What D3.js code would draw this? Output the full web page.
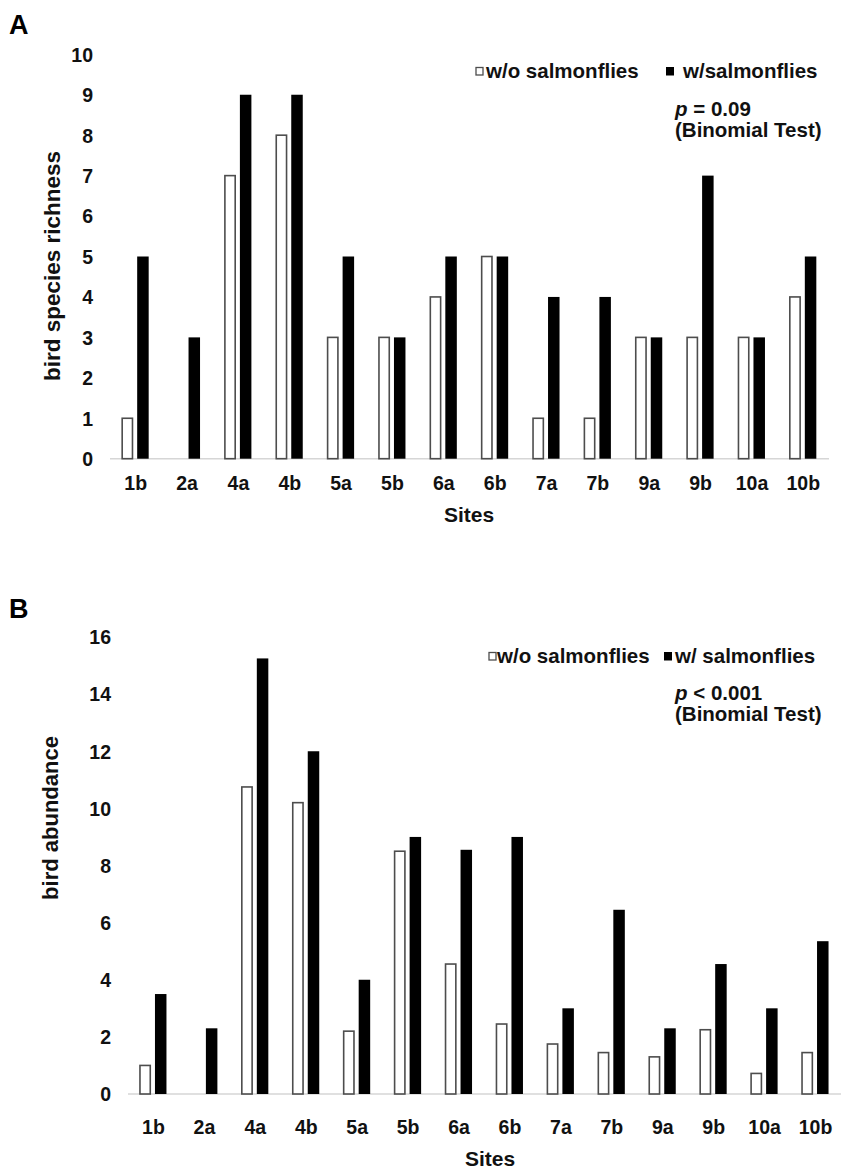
<!DOCTYPE html>
<html><head><meta charset="utf-8">
<script src="https://cdn.jsdelivr.net/npm/d3@7/dist/d3.min.js"></script>
<style>
html,body{margin:0;padding:0;background:#fff;}
svg text{font-family:"Liberation Sans",Arial,sans-serif;font-weight:bold;fill:#111;}
</style></head>
<body>
<svg id="chart" width="854" height="1171"></svg>
<script>
const sites = ["1b","2a","4a","4b","5a","5b","6a","6b","7a","7b","9a","9b","10a","10b"];
const richnessWithout = [1,0,7,8,3,3,4,5,1,1,3,3,3,4];
const richnessWith    = [5,3,9,9,5,3,5,5,4,4,3,7,3,5];
const abundanceWithout = [1.0,0,10.75,10.2,2.2,8.5,4.55,2.45,1.75,1.45,1.3,2.25,0.72,1.45];
const abundanceWith    = [3.5,2.3,15.25,12,4,9,8.55,9,3,6.45,2.3,4.55,3,5.35];
const richnessTicks = [0,1,2,3,4,5,6,7,8,9,10];
const abundanceTicks = [0,2,4,6,8,10,12,14,16];

const svg = d3.select("#chart");

function panel(cfg){
  const g = svg.append("g");
  const x = d3.scaleBand().domain(sites).range(cfg.xr).paddingInner(0).paddingOuter(0);
  const y = d3.scaleLinear().domain([0, cfg.max]).range(cfg.yr);

  g.append("line").attr("x1", cfg.xr[0]).attr("x2", cfg.xr[1])
    .attr("y1", y(0)).attr("y2", y(0)).attr("stroke", "#d6d6d6").attr("stroke-width", 1.5);

  const ya = d3.axisLeft(y).tickValues(cfg.ticks).tickSize(0).tickPadding(0);
  const yg = g.append("g").attr("transform", `translate(${cfg.yLabelX},0)`).call(ya);
  yg.select(".domain").remove();
  yg.selectAll("text").style("font-size", "19.5px").attr("dy", "0.35em");

  const xa = d3.axisBottom(x).tickSize(0).tickPadding(0);
  const xg = g.append("g").attr("transform", `translate(0,${cfg.xLabelY})`).call(xa);
  xg.select(".domain").remove();
  xg.selectAll("text").style("font-size", "19.5px").attr("dy", "0");

  const bw = 11.5;
  g.selectAll("rect.wo").data(sites.map((s,i)=>({s, v: cfg.without[i]})).filter(d=>d.v>0))
    .join("rect").attr("class","wo")
    .attr("x", d => x(d.s) + x.bandwidth()/2 - 13.5)
    .attr("y", d => y(d.v))
    .attr("width", bw - 1.2)
    .attr("height", d => y(0) - y(d.v))
    .attr("fill", "#fff").attr("stroke", "#4d4d4d").attr("stroke-width", 1.6);
  g.selectAll("rect.w").data(sites.map((s,i)=>({s, v: cfg.with[i]})))
    .join("rect").attr("class","w")
    .attr("x", d => x(d.s) + x.bandwidth()/2 + 1.5)
    .attr("y", d => y(d.v))
    .attr("width", bw)
    .attr("height", d => y(0) - y(d.v))
    .attr("fill", "#000");

  g.append("text").attr("x", 9).attr("y", cfg.letterY).text(cfg.letter).style("font-size","27px").style("fill","#000");

  g.append("text").attr("transform", `translate(${cfg.titleX},${cfg.titleY}) rotate(-90)`)
    .attr("text-anchor","middle").style("font-size", cfg.titleSize).text(cfg.ytitle);

  g.append("text").attr("x", cfg.sitesX).attr("y", cfg.sitesY).attr("text-anchor","middle")
    .style("font-size","21px").text("Sites");

  const L = cfg.legend;
  g.append("rect").attr("x", L.sq1).attr("y", L.y - 10.5).attr("width", 7).attr("height", 7.5)
    .attr("fill","#fff").attr("stroke","#4d4d4d").attr("stroke-width",1.3);
  g.append("text").attr("x", L.t1).attr("y", L.y).style("font-size","20.5px").text("w/o salmonflies");
  g.append("rect").attr("x", L.sq2).attr("y", L.y - 11).attr("width", 8).attr("height", 8.5).attr("fill","#000");
  g.append("text").attr("x", L.t2).attr("y", L.y).style("font-size","20.5px").text(L.label2);

  const p = g.append("text").attr("x", cfg.pX).attr("y", cfg.pY).style("font-size","20.5px");
  p.append("tspan").style("font-style","italic").text("p");
  p.append("tspan").text(cfg.pText);
  g.append("text").attr("x", cfg.pX).attr("y", cfg.pY + 21).style("font-size","20.5px").text("(Binomial Test)");
}

panel({
  letter:"A", letterY:34,
  xr:[110, 829], yr:[458.7, 54.3], max:10, ticks:richnessTicks,
  without:richnessWithout, with:richnessWith,
  yLabelX:93, xLabelY:490,
  ytitle:"bird species richness", titleX:60, titleY:266, titleSize:"22.5px",
  sitesX:469, sitesY:522,
  legend:{y:78, sq1:476, t1:486, sq2:666, t2:683, label2:"w/salmonflies"},
  pX:675, pY:116, pText:" = 0.09"
});

panel({
  letter:"B", letterY:618,
  xr:[128, 841], yr:[1094, 637], max:16, ticks:abundanceTicks,
  without:abundanceWithout, with:abundanceWith,
  yLabelX:111, xLabelY:1134,
  ytitle:"bird abundance", titleX:58, titleY:818, titleSize:"22px",
  sitesX:490, sitesY:1166,
  legend:{y:663, sq1:489, t1:497, sq2:664, t2:675, label2:"w/ salmonflies"},
  pX:675, pY:700, pText:" < 0.001"
});
</script>
</body></html>
